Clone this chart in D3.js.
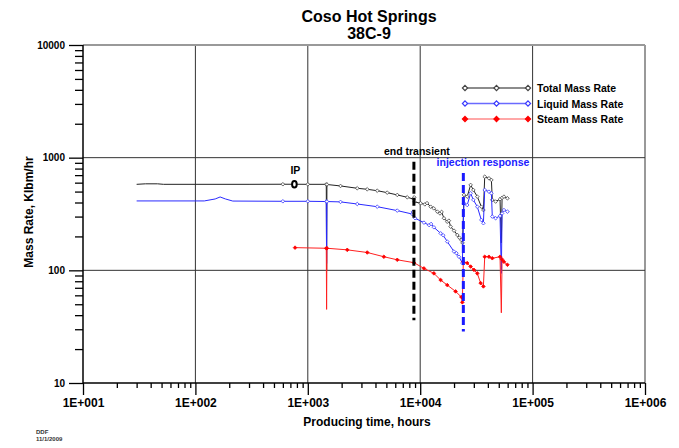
<!DOCTYPE html>
<html><head><meta charset="utf-8">
<script src="https://cdn.jsdelivr.net/npm/d3@7"></script>
<style>
body{margin:0;background:#fff}
svg text{font-family:"Liberation Sans",Arial,sans-serif;font-weight:bold}
</style>
</head><body><svg id="c" width="679" height="448"></svg>
<script>
const titleLines = ["Coso Hot Springs", "38C-9"];
const xTicks = [1e1, 1e2, 1e3, 1e4, 1e5, 1e6];
const xTickLabels = ["1E+001", "1E+002", "1E+003", "1E+004", "1E+005", "1E+006"];
const yTicks = [10, 100, 1000, 10000];
const yTickLabels = ["10", "100", "1000", "10000"];
const xTitle = "Producing time, hours";
const yTitle = "Mass Rate, Klbm/hr";
const seriesNames = ["Total Mass Rate", "Liquid Mass Rate", "Steam Mass Rate"];

const totalTime = [30,36,46,52,100,300,600,760,1000,1460,1470,1480,1955,2754,3380,4150,5090,6250,7670,8790,8850,8900,10090,11000,11500,12390,13200,14200,15000,15500,16270,17400,18000,18660,20000,21390,22300,23220,23800,24500,26200,28100,29700,32200,35000,36500,37500,40900,43000,43800,46900,51300,52700,53500,55600,59700];
const totalRate = [580,586,586,580,580,580,581,581,580,580,100,578,561,535,524,509,489,467,445,428,445,405,394,385,395,367,355,332,320,330,290,270,276,244,225,206,195,186,175,467,451,573,517,451,367,343,678,656,634,422,408,428,175,440,451,436];

const liquidTime = [30,120,150,166,185,215,600,1000,1460,1470,1480,1955,2754,4150,6250,8500,8600,9000,10800,12000,12500,13240,15200,16000,17400,19960,21000,22130,23710,24500,26200,28100,29700,32200,35000,36500,37500,40900,43000,43800,46900,51300,52700,53500,55600,59700];
const liquidRate = [413,413,430,448,430,412,410,410,408,115,408,405,388,367,339,316,330,290,265,252,258,241,213,205,180,147,142,132,116,394,380,483,422,367,280,262,517,499,483,300,290,304,94,320,343,332];

const steamTime = [770,1460,1470,1480,2244,3380,4750,6250,8790,10800,13240,15200,17400,20650,23220,23700,24200,26200,28100,30080,32200,34500,36500,37500,40900,43800,51300,52700,53500,55600,59700];
const steamRate = [159,157,45,157,152,144,132,124,117,104,94,82,74,65,58,52,119,116,108,101,94,77,72,132,132,128,132,42,125,119,112];

const ipTime = 760, ipRate = 581, ipLabel = "IP";
const endTransientTime = 8790, endTransientRange = [36, 920], endTransientLabel = "end transient";
const injectionTime = 24200, injectionRange = [28.6, 730], injectionLabel = "injection response";
const footerLines = ["DDF", "11/1/2009"];

const svg = d3.select("#c");
const L = 83, R = 645, T = 45, B = 383;
const x = d3.scaleLog().domain([10, 1e6]).range([L, R]);
const y = d3.scaleLog().domain([10, 10000]).range([B, T]);

// title
svg.append("text").attr("x", 369).attr("y", 22).attr("text-anchor", "middle").attr("font-size", 16).text(titleLines[0]);
svg.append("text").attr("x", 369).attr("y", 39).attr("text-anchor", "middle").attr("font-size", 16).text(titleLines[1]);

// grid
const g = svg.append("g");
xTicks.slice(1).forEach((t, i, arr) => {
  const last = i === arr.length - 1;
  g.append("line").attr("x1", x(t)).attr("x2", x(t)).attr("y1", T).attr("y2", B)
    .attr("stroke", last ? "#999" : "#333").attr("stroke-width", last ? 2 : 1);
});
yTicks.slice(1).forEach((v, i, arr) => {
  const last = i === arr.length - 1;
  g.append("line").attr("x1", L).attr("x2", R).attr("y1", y(v)).attr("y2", y(v))
    .attr("stroke", last ? "#999" : "#333").attr("stroke-width", last ? 2 : 1);
});

const minorX = [], minorY = [];
for (let d = 10; d < 1e6; d *= 10) for (let k = 2; k <= 9; k++) minorX.push(d * k);
for (let d = 10; d < 1e4; d *= 10) for (let k = 2; k <= 9; k++) minorY.push(d * k);

const axStyle = sel => { sel.select(".domain").remove(); sel.selectAll("line").attr("stroke", "#000").attr("stroke-width", 1.3); };

svg.append("g").attr("transform", `translate(0,${B})`)
  .call(d3.axisBottom(x).tickValues(minorX).tickSize(5).tickFormat(""))
  .call(axStyle);
svg.append("g").attr("transform", `translate(0,${B})`)
  .call(d3.axisBottom(x).tickValues(xTicks).tickSize(12).tickPadding(3).tickFormat((d, i) => xTickLabels[i]))
  .call(axStyle)
  .selectAll("text").attr("font-size", 12).attr("fill", "#000").attr("font-family", "Liberation Sans, Arial, sans-serif").attr("font-weight", "bold");
svg.append("g").attr("transform", `translate(${L},0)`)
  .call(d3.axisLeft(y).tickValues(minorY).tickSize(8).tickFormat(""))
  .call(axStyle);
svg.append("g").attr("transform", `translate(${L},0)`)
  .call(d3.axisLeft(y).tickValues(yTicks).tickSize(14).tickPadding(4).tickFormat((d, i) => yTickLabels[i]))
  .call(axStyle)
  .selectAll("text").attr("font-size", 10).attr("fill", "#000").attr("font-family", "Liberation Sans, Arial, sans-serif").attr("font-weight", "bold");

svg.append("line").attr("x1", L).attr("x2", L).attr("y1", T).attr("y2", B).attr("stroke", "#000").attr("stroke-width", 1.5);
svg.append("line").attr("x1", L).attr("x2", R).attr("y1", B).attr("y2", B).attr("stroke", "#000").attr("stroke-width", 1.5);

svg.append("text").attr("x", 367).attr("y", 426).attr("text-anchor", "middle").attr("font-size", 12).text(xTitle);
svg.append("text").attr("transform", "translate(33,212) rotate(-90)").attr("text-anchor", "middle").attr("font-size", 12).text(yTitle);

const series = [
  {name: seriesNames[0], t: totalTime, v: totalRate, line: "#222", mark: "#444", fill: "#fff", lg: "#666"},
  {name: seriesNames[1], t: liquidTime, v: liquidRate, line: "#2a2aff", mark: "#3a3aff", fill: "#fff", lg: "#6a6aff"},
  {name: seriesNames[2], t: steamTime, v: steamRate, line: "#ff2020", mark: "#ff0000", fill: "#ff0000", lg: "#ff8a8a"}
];
const diamond = (cx, cy, r) => `M${cx},${cy - r}L${cx + r},${cy}L${cx},${cy + r}L${cx - r},${cy}Z`;
const lineGen = d3.line().x(d => x(d[0])).y(d => y(d[1]));

series.forEach(s => {
  const pts = s.t.map((t, i) => [t, s.v[i]]);
  svg.append("path").attr("d", lineGen(pts)).attr("fill", "none").attr("stroke", s.line).attr("stroke-width", 1);
  const marks = pts.filter((p, i) => {
    if (p[0] < 600) return false;
    const prev = pts[i - 1], next = pts[i + 1];
    if (prev && next && p[1] < 0.6 * prev[1] && p[1] < 0.6 * next[1]) return false;
    return true;
  });
  svg.append("g").selectAll("path").data(marks).join("path")
    .attr("d", d => diamond(x(d[0]), y(d[1]), 1.8))
    .attr("fill", s.fill).attr("stroke", s.mark).attr("stroke-width", 0.8);
});

svg.append("ellipse").attr("cx", x(ipTime)).attr("cy", y(ipRate)).attr("rx", 2.3).attr("ry", 3.3)
  .attr("fill", "#fff").attr("stroke", "#000").attr("stroke-width", 2);
svg.append("text").attr("x", x(ipTime) + 1).attr("y", y(ipRate) - 10).attr("text-anchor", "middle").attr("font-size", 10.5).text(ipLabel);

svg.append("line").attr("x1", x(endTransientTime)).attr("x2", x(endTransientTime))
  .attr("y1", y(endTransientRange[1])).attr("y2", y(endTransientRange[0]))
  .attr("stroke", "#000").attr("stroke-width", 3).attr("stroke-dasharray", "8,4");
svg.append("text").attr("x", x(endTransientTime) + 3).attr("y", 155).attr("text-anchor", "middle").attr("font-size", 10.5).text(endTransientLabel);
svg.append("line").attr("x1", x(injectionTime)).attr("x2", x(injectionTime))
  .attr("y1", y(injectionRange[1])).attr("y2", y(injectionRange[0]))
  .attr("stroke", "#1a1aff").attr("stroke-width", 3).attr("stroke-dasharray", "8,4");
svg.append("text").attr("x", 483).attr("y", 166).attr("text-anchor", "middle").attr("font-size", 10.5).attr("fill", "#2020ff").text(injectionLabel);

series.forEach((s, i) => {
  const ly = 88 + i * 15.5;
  svg.append("line").attr("x1", 465).attr("x2", 528).attr("y1", ly).attr("y2", ly).attr("stroke", s.lg).attr("stroke-width", 1.3);
  [465, 496.5, 528].forEach(cx => {
    svg.append("path").attr("d", diamond(cx, ly, 2.6)).attr("fill", s.fill).attr("stroke", s.mark).attr("stroke-width", 1.2);
  });
  svg.append("text").attr("x", 537).attr("y", ly + 4).attr("font-size", 10.5).text(s.name);
});

footerLines.forEach((f, i) => {
  svg.append("text").attr("x", 36).attr("y", 434 + i * 6.5).attr("font-size", 6).attr("font-weight", "normal").attr("fill", "#333").text(f);
});
</script>
</body></html>
